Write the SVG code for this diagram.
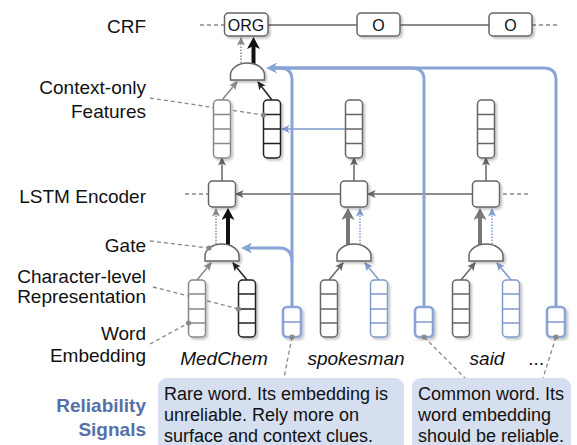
<svg xmlns="http://www.w3.org/2000/svg" width="577" height="445" viewBox="0 0 577 445">
<defs>
<filter id="sh" x="-30%" y="-30%" width="160%" height="160%">
<feDropShadow dx="2" dy="2" stdDeviation="0.8" flood-color="#000" flood-opacity="0.22"/>
</filter>
<marker id="aG" markerUnits="userSpaceOnUse" markerWidth="9" markerHeight="8" refX="7.5" refY="4" orient="auto"><path d="M0,0 L8.5,4 L0,8 L2,4 Z" fill="#666"/></marker>
<marker id="aF" markerUnits="userSpaceOnUse" markerWidth="9" markerHeight="8" refX="7.5" refY="4" orient="auto"><path d="M0,0 L8.5,4 L0,8 L2,4 Z" fill="#888"/></marker>
<marker id="aK" markerUnits="userSpaceOnUse" markerWidth="9" markerHeight="8" refX="7.5" refY="4" orient="auto"><path d="M0,0 L8.5,4 L0,8 L2,4 Z" fill="#222"/></marker>
<marker id="aB" markerUnits="userSpaceOnUse" markerWidth="9" markerHeight="8" refX="7.5" refY="4" orient="auto"><path d="M0,0 L8.5,4 L0,8 L2,4 Z" fill="#7f9ace"/></marker>
<marker id="aBT" markerUnits="userSpaceOnUse" markerWidth="11" markerHeight="11" refX="3" refY="5.5" orient="auto"><path d="M0,0 L11,5.5 L0,11 L3,5.5 Z" fill="#8aa4d6"/></marker>
<marker id="tK" markerUnits="userSpaceOnUse" markerWidth="13" markerHeight="14" refX="3" refY="6.5" orient="auto"><path d="M0,0 L12,6.5 L0,13 L3,6.5 Z" fill="#111"/></marker>
<marker id="tG" markerUnits="userSpaceOnUse" markerWidth="13" markerHeight="14" refX="3" refY="6.5" orient="auto"><path d="M0,0 L12,6.5 L0,13 L3,6.5 Z" fill="#777"/></marker>
</defs>
<style>
.lbl{font-family:"Liberation Sans",Arial,sans-serif;font-size:19px;fill:#111;text-anchor:end}
.rel{font-family:"Liberation Sans",Arial,sans-serif;font-size:19px;font-weight:bold;fill:#5670a8;text-anchor:end}
.word{font-family:"Liberation Sans",Arial,sans-serif;font-size:19px;font-style:italic;fill:#111;text-anchor:middle}
.bt{font-family:"Liberation Sans",Arial,sans-serif;font-size:18px;fill:#111}
.tag{font-family:"Liberation Sans",Arial,sans-serif;font-size:16px;fill:#111;text-anchor:middle}
.box{fill:#fff;stroke:#666;stroke-width:1.5;filter:url(#sh)}
.vg{fill:#fff;stroke:#666;stroke-width:1.5;filter:url(#sh)}
.vf{fill:#fff;stroke:#888;stroke-width:1.5;filter:url(#sh)}
.vk{fill:#fff;stroke:#222;stroke-width:1.5;filter:url(#sh)}
.vb{fill:#fff;stroke:#7f9ace;stroke-width:1.5;filter:url(#sh)}
.sb{fill:#fff;stroke:#8aa4d6;stroke-width:2.6;filter:url(#sh)}
.cg{stroke:#666;stroke-width:1.5}
.cf{stroke:#888;stroke-width:1.5}
.ck{stroke:#222;stroke-width:1.5}
.cb{stroke:#7f9ace;stroke-width:1.5}
.gate{fill:#fff;stroke:#666;stroke-width:1.5;filter:url(#sh)}
.lead{fill:none;stroke:#888;stroke-width:1.3;stroke-dasharray:4 3}
.dot{fill:#888}
.bub{fill:#d5dff0}
</style>

<!-- labels -->
<g id="labels">
<text class="lbl" x="146" y="33">CRF</text>
<text class="lbl" x="146" y="94">Context-only</text>
<text class="lbl" x="146" y="118">Features</text>
<text class="lbl" x="146" y="203">LSTM Encoder</text>
<text class="lbl" x="146" y="252">Gate</text>
<text class="lbl" x="146" y="283">Character-level</text>
<text class="lbl" x="146" y="303">Representation</text>
<text class="lbl" x="146" y="340">Word</text>
<text class="lbl" x="146" y="362">Embedding</text>
<text class="rel" x="146" y="412">Reliability</text>
<text class="rel" x="146" y="436">Signals</text>
</g>

<!-- connectors -->
<g id="connectors" fill="none">
<!-- CRF chain -->
<line class="lead" x1="200" y1="25" x2="224" y2="25"/>
<line class="cg" x1="268" y1="25" x2="357" y2="25"/>
<line class="cg" x1="400" y1="25" x2="489" y2="25"/>
<line class="lead" x1="532" y1="25" x2="560" y2="25"/>
<!-- gate1 to ORG -->
<line class="cf" x1="241" y1="63" x2="241" y2="38" stroke-dasharray="1.5 1.5" marker-end="url(#aF)"/>
<line x1="253.5" y1="64" x2="253.5" y2="46" stroke="#111" stroke-width="4" marker-end="url(#tK)"/>
<!-- context vectors to gate1 -->
<line class="cf" x1="222" y1="100" x2="237" y2="82" marker-end="url(#aF)"/>
<line class="ck" x1="272" y1="100" x2="258" y2="82" marker-end="url(#aK)"/>
<!-- LSTM to context vectors -->
<line class="cg" x1="222" y1="181" x2="222" y2="158" marker-end="url(#aG)"/>
<line class="cg" x1="354" y1="181" x2="354" y2="158" marker-end="url(#aG)"/>
<line class="cg" x1="486" y1="181" x2="486" y2="158" marker-end="url(#aG)"/>
<!-- LSTM chain -->
<line class="lead" x1="185" y1="194" x2="208" y2="194"/>
<line class="cg" x1="340.5" y1="194" x2="236" y2="194" marker-end="url(#aG)"/>
<line class="cg" x1="472.5" y1="194" x2="368" y2="194" marker-end="url(#aG)"/>
<line class="lead" x1="503" y1="194" x2="530" y2="194"/>
<!-- gates to LSTM -->
<line class="cf" x1="216" y1="244" x2="216" y2="209" stroke-dasharray="1.5 1.5" marker-end="url(#aF)"/>
<line x1="228" y1="245" x2="228" y2="217" stroke="#111" stroke-width="4" marker-end="url(#tK)"/>
<line x1="348" y1="245" x2="348" y2="217" stroke="#777" stroke-width="4" marker-end="url(#tG)"/>
<line class="cb" x1="360" y1="244" x2="360" y2="209" stroke-dasharray="1.5 1.5" marker-end="url(#aB)"/>
<line x1="480" y1="245" x2="480" y2="217" stroke="#777" stroke-width="4" marker-end="url(#tG)"/>
<line class="cb" x1="492" y1="244" x2="492" y2="209" stroke-dasharray="1.5 1.5" marker-end="url(#aB)"/>
<!-- vectors to lower gates -->
<line class="cf" x1="197" y1="280" x2="211" y2="263" marker-end="url(#aF)"/>
<line class="ck" x1="247" y1="280" x2="233" y2="263" marker-end="url(#aK)"/>
<line class="cg" x1="329" y1="280" x2="343" y2="263" marker-end="url(#aG)"/>
<line class="cb" x1="379" y1="280" x2="365" y2="263" marker-end="url(#aB)"/>
<line class="cg" x1="461" y1="280" x2="475" y2="263" marker-end="url(#aG)"/>
<line class="cb" x1="511" y1="280" x2="497" y2="263" marker-end="url(#aB)"/>
<!-- blue context arrow -->
<line class="cb" x1="345.5" y1="129" x2="282" y2="129" marker-end="url(#aB)"/>
<!-- reliability signal lines -->
<path d="M556,307 V80 Q556,68 544,68 H274" stroke="#8aa4d6" stroke-width="3"/>
<path d="M424,307 V80 Q424,68 412,68 H274" stroke="#8aa4d6" stroke-width="3"/>
<path d="M292,307 V80 Q292,68 280,68 H274" stroke="#8aa4d6" stroke-width="3" marker-end="url(#aBT)"/>
<path d="M292,262 Q292,248 280,248 H249" stroke="#8aa4d6" stroke-width="3" marker-end="url(#aBT)"/>
<!-- leader lines -->
<line class="lead" x1="150" y1="98" x2="263.5" y2="115"/>
<line class="lead" x1="150" y1="241" x2="209" y2="248"/>
<line class="lead" x1="153" y1="287" x2="238.5" y2="309"/>
<line class="lead" x1="150" y1="344" x2="188.5" y2="323"/>
<line class="lead" x1="292" y1="337" x2="284" y2="378"/>
<line class="lead" x1="424" y1="337" x2="465" y2="378"/>
<line class="lead" x1="556" y1="337" x2="543" y2="378"/>
</g>

<!-- CRF nodes -->
<g id="crf-org"><rect class="box" x="224.5" y="13" width="43.5" height="23" rx="4"/><text class="tag" x="246" y="30.5">ORG</text></g>
<g id="crf-o1"><rect class="box" x="357" y="13" width="43" height="23" rx="4"/><text class="tag" x="378.5" y="30.5">O</text></g>
<g id="crf-o2"><rect class="box" x="489" y="13" width="43" height="23" rx="4"/><text class="tag" x="510.5" y="30.5">O</text></g>

<!-- upper gate -->
<g id="gate-ctx"><path class="gate" d="M230.5,80 V75 A17,12 0 0 1 264.5,75 V80 Z"/></g>

<!-- context vectors -->
<g id="ctx-medchem-left"><rect class="vf" x="213.5" y="100" width="17" height="58" rx="4"/><path class="cf" d="M213.5,114.5 h17 M213.5,129 h17 M213.5,143.5 h17"/></g>
<g id="ctx-medchem-right"><rect class="vk" x="263.5" y="100" width="17" height="58" rx="4"/><path class="ck" d="M263.5,114.5 h17 M263.5,129 h17 M263.5,143.5 h17"/></g>
<g id="ctx-spokesman"><rect class="vg" x="345.5" y="100" width="17" height="58" rx="4"/><path class="cg" d="M345.5,114.5 h17 M345.5,129 h17 M345.5,143.5 h17"/></g>
<g id="ctx-said"><rect class="vg" x="477.5" y="100" width="17" height="58" rx="4"/><path class="cg" d="M477.5,114.5 h17 M477.5,129 h17 M477.5,143.5 h17"/></g>

<!-- LSTM -->
<g id="lstm-1"><rect class="box" x="208.5" y="181" width="27" height="26" rx="4"/></g>
<g id="lstm-2"><rect class="box" x="340.5" y="181" width="27" height="26" rx="4"/></g>
<g id="lstm-3"><rect class="box" x="472.5" y="181" width="27" height="26" rx="4"/></g>

<!-- lower gates -->
<g id="gate-1"><path class="gate" d="M205,261 V256 A17,12 0 0 1 239,256 V261 Z"/></g>
<g id="gate-2"><path class="gate" d="M337,261 V256 A17,12 0 0 1 371,256 V261 Z"/></g>
<g id="gate-3"><path class="gate" d="M469,261 V256 A17,12 0 0 1 503,256 V261 Z"/></g>

<!-- word embeddings / char vectors -->
<g id="emb-medchem"><rect class="vf" x="188.5" y="280" width="17" height="57" rx="4"/><path class="cf" d="M188.5,294 h17 M188.5,309 h17 M188.5,323 h17"/></g>
<g id="char-medchem"><rect class="vk" x="238.5" y="280" width="17" height="57" rx="4"/><path class="ck" d="M238.5,294 h17 M238.5,309 h17 M238.5,323 h17"/></g>
<g id="emb-spokesman"><rect class="vg" x="320.5" y="280" width="17" height="57" rx="4"/><path class="cg" d="M320.5,294 h17 M320.5,309 h17 M320.5,323 h17"/></g>
<g id="char-spokesman"><rect class="vb" x="370.5" y="280" width="17" height="57" rx="4"/><path class="cb" d="M370.5,294 h17 M370.5,309 h17 M370.5,323 h17"/></g>
<g id="emb-said"><rect class="vg" x="452.5" y="280" width="17" height="57" rx="4"/><path class="cg" d="M452.5,294 h17 M452.5,309 h17 M452.5,323 h17"/></g>
<g id="char-said"><rect class="vb" x="502.5" y="280" width="17" height="57" rx="4"/><path class="cb" d="M502.5,294 h17 M502.5,309 h17 M502.5,323 h17"/></g>

<!-- reliability signal boxes -->
<g id="rel-medchem"><rect class="sb" x="283" y="307" width="18" height="30" rx="4"/><line class="cb" x1="283" y1="322" x2="301" y2="322"/></g>
<g id="rel-spokesman"><rect class="sb" x="415" y="307" width="18" height="30" rx="4"/><line class="cb" x1="415" y1="322" x2="433" y2="322"/></g>
<g id="rel-said"><rect class="sb" x="547" y="307" width="18" height="30" rx="4"/><line class="cb" x1="547" y1="322" x2="565" y2="322"/></g>

<!-- dots -->
<g id="dots">
<circle class="dot" cx="263.5" cy="115" r="2.6"/>
<circle class="dot" cx="209" cy="248" r="2.6"/>
<circle class="dot" cx="238.5" cy="309" r="2.6"/>
<circle class="dot" cx="188.5" cy="323" r="2.6"/>
<circle class="dot" cx="292" cy="337" r="2.6"/>
<circle class="dot" cx="424" cy="337" r="2.6"/>
<circle class="dot" cx="556" cy="337" r="2.6"/>
</g>

<!-- words -->
<g id="words">
<text class="word" x="224" y="365">MedChem</text>
<text class="word" x="356" y="365">spokesman</text>
<text class="word" x="487" y="365">said</text>
<text class="word" x="537" y="365" font-style="normal">...</text>
</g>

<!-- bubbles -->
<g id="bubble-rare">
<rect class="bub" x="158" y="378" width="246" height="80" rx="9"/>
<text class="bt" x="164" y="400">Rare word. Its embedding is</text>
<text class="bt" x="164" y="421">unreliable. Rely more on</text>
<text class="bt" x="164" y="442">surface and context clues.</text>
</g>
<g id="bubble-common">
<rect class="bub" x="412" y="378" width="159" height="80" rx="9"/>
<text class="bt" x="418" y="400">Common word. Its</text>
<text class="bt" x="418" y="421">word embedding</text>
<text class="bt" x="418" y="442">should be reliable.</text>
</g>
</svg>
